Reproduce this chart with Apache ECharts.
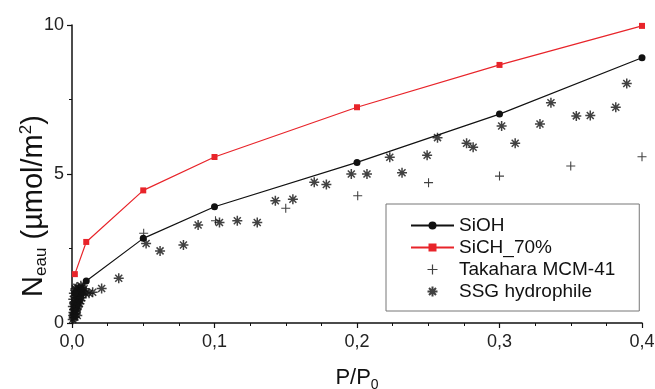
<!DOCTYPE html>
<html>
<head>
<meta charset="utf-8">
<script src="https://cdn.jsdelivr.net/npm/echarts@6/dist/echarts.min.js"></script>
<style>html,body{margin:0;padding:0;background:#fff;}#c{width:655px;height:389px;}</style>
</head>
<body>
<div id="c"></div>
<script>
var xTicks = [0, 0.1, 0.2, 0.3, 0.4];
var yTicks = [0, 5, 10];

var siohData = [[0.002,1.0],[0.01,1.41],[0.05,2.84],[0.1,3.9],[0.2,5.39],[0.3,7.01],[0.4,8.9]];
var sich70Data = [[0.002,1.64],[0.01,2.72],[0.05,4.45],[0.1,5.57],[0.2,7.24],[0.3,8.66],[0.4,9.97]];
var takaharaData = [[0.001,0.3],[0.002,0.5],[0.003,0.7],[0.005,0.85],[0.008,0.95],
  [0.0503,3.01],[0.1007,3.43],[0.150,3.85],[0.2005,4.27],[0.2502,4.71],[0.30,4.93],[0.35,5.27],[0.40,5.58]];
var ssgData = [[0.0005,0.12],[0.0008,0.25],[0.001,0.35],[0.0012,0.18],[0.0015,0.45],[0.0018,0.3],[0.002,0.55],
  [0.0022,0.65],[0.0025,0.4],[0.0028,0.75],[0.003,0.6],[0.0032,0.85],[0.0035,0.5],[0.0038,0.95],[0.004,0.7],
  [0.0042,1.05],[0.0045,0.8],[0.005,0.9],[0.0055,1.0],[0.006,1.1],[0.0065,0.95],[0.007,1.2],[0.008,1.05],
  [0.0006,0.55],[0.0009,0.8],[0.0013,1.0],[0.0017,0.7],[0.0021,0.2],[0.0024,1.15],[0.0027,0.3],[0.0031,0.45],
  [0.0034,1.2],[0.0037,0.25],[0.0041,0.55],[0.0046,1.15],[0.0052,0.65],[0.0058,0.75],[0.0062,1.25],
  [0.0068,0.85],[0.0075,1.1],[0.0085,1.15],
  [0.0095,1.0],[0.012,1.0],[0.0145,1.03],[0.0208,1.16],[0.0328,1.5],
  [0.052,2.67],[0.0618,2.42],[0.0782,2.62],[0.0885,3.29],[0.1035,3.37],[0.116,3.43],[0.130,3.37],
  [0.1427,4.10],[0.155,4.15],[0.170,4.72],[0.1785,4.65],[0.196,5.0],[0.207,5.0],[0.223,5.56],[0.2316,5.04],
  [0.2492,5.63],[0.2565,6.22],[0.2769,6.03],[0.2815,5.90],[0.3015,6.61],[0.311,6.03],[0.3284,6.68],
  [0.3361,7.39],[0.3539,6.95],[0.3637,6.96],[0.3816,7.24],[0.3893,8.04]];

var FONT = '"Liberation Sans", Arial, sans-serif';
var plusPath = 'path://M4.4,0H5.6V4.4H10V5.6H5.6V10H4.4V5.6H0V4.4H4.4Z';
var starPath = 'path://M0,5L10,5M5,0L5,10M1.5,1.5L8.5,8.5M8.5,1.5L1.5,8.5';

var chart = echarts.init(document.getElementById('c'));
chart.setOption({
  animation: false,
  backgroundColor: '#fff',
  grid: {left: 72, right: 13, top: 25, bottom: 66, containLabel: false, outerBoundsMode: 'none'},
  legend: {
    left: 386, top: 204,
    orient: 'vertical',
    backgroundColor: '#fff',
    borderColor: '#777',
    borderWidth: 1,
    padding: [12, 24, 10, 24],
    itemGap: 3,
    itemWidth: 43,
    itemHeight: 10,
    textStyle: {fontFamily: FONT, fontSize: 19, color: '#111'},
    data: ['SiOH', 'SiCH_70%', 'Takahara MCM-41', 'SSG hydrophile']
  },
  xAxis: {
    type: 'value', min: 0, max: 0.4, interval: 0.1,
    name: '{n|P/P}{sub|0}', nameLocation: 'middle', nameGap: 40, nameMoveOverlap: false,
    nameTextStyle: {fontFamily: FONT, color: '#111', rich: {
      n: {fontFamily: FONT, fontSize: 22, color: '#111'},
      sub: {fontFamily: FONT, fontSize: 14, color: '#111', padding: [15, 0, 0, 0]}
    }},
    axisLine: {show: true, lineStyle: {color: '#111', width: 1.5}},
    axisTick: {show: true, length: 5, lineStyle: {color: '#111', width: 1.2}},
    minorTick: {show: true, splitNumber: 4, length: 3, lineStyle: {color: '#111', width: 1}},
    splitLine: {show: false},
    axisLabel: {fontFamily: FONT, fontSize: 18, color: '#222', margin: 10,
      formatter: function (v) { return v.toFixed(1).replace('.', ','); }}
  },
  yAxis: {
    type: 'value', min: 0, max: 10, interval: 5,
    name: '{n|N}{sub|eau}{n| (µmol/m}{sup|2}{n|)}', nameLocation: 'middle', nameGap: 22, nameRotate: 90,
    nameMoveOverlap: false,
    nameTextStyle: {fontFamily: FONT, color: '#111', padding: [0, 64, 0, 0], rich: {
      n: {fontFamily: FONT, fontSize: 29, color: '#111'},
      sub: {fontFamily: FONT, fontSize: 17, color: '#111', padding: [15, 0, 0, 0]},
      sup: {fontFamily: FONT, fontSize: 17, color: '#111', padding: [0, 0, 15, 0]}
    }},
    axisLine: {show: true, lineStyle: {color: '#111', width: 1.5}},
    axisTick: {show: true, length: 5, lineStyle: {color: '#111', width: 1.2}},
    minorTick: {show: true, splitNumber: 2, length: 3, lineStyle: {color: '#111', width: 1}},
    splitLine: {show: false},
    axisLabel: {fontFamily: FONT, fontSize: 18, color: '#222', margin: 8}
  },
  series: [
    {name: 'Takahara MCM-41', type: 'scatter', data: takaharaData, symbol: plusPath, symbolSize: 9,
      itemStyle: {color: '#111'}, z: 2},
    {name: 'SSG hydrophile', type: 'scatter', data: ssgData, symbol: starPath, symbolSize: 10,
      itemStyle: {color: 'none', borderColor: '#111', borderWidth: 1.5}, z: 2},
    {name: 'SiOH', type: 'line', data: siohData, symbol: 'circle', symbolSize: 7,
      lineStyle: {color: '#111', width: 1.2}, itemStyle: {color: '#111'}, z: 3},
    {name: 'SiCH_70%', type: 'line', data: sich70Data, symbol: 'rect', symbolSize: 6,
      lineStyle: {color: '#e8242a', width: 1.2}, itemStyle: {color: '#e8242a'}, z: 3}
  ]
});
</script>
</body>
</html>
